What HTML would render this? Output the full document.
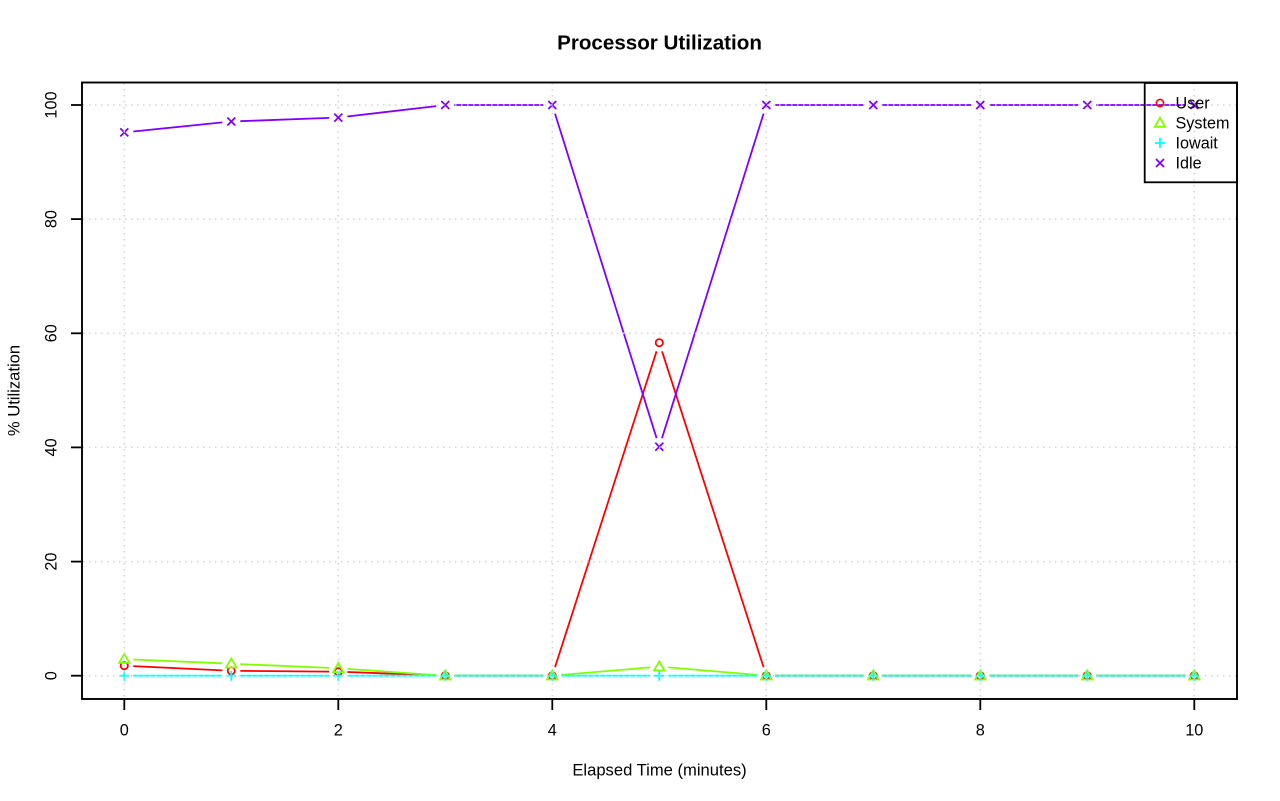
<!DOCTYPE html>
<html><head><meta charset="utf-8"><style>
html,body{margin:0;padding:0;background:#fff;}
svg{display:block;}
text{font-family:"Liberation Sans",Arial,sans-serif;fill:#000;}
</style></head><body>
<svg width="1280" height="801" viewBox="0 0 1280 801" xmlns="http://www.w3.org/2000/svg">
<rect x="0" y="0" width="1280" height="801" fill="#fff"/>
<!-- title -->
<text x="659.5" y="49.3" font-size="20.6" font-weight="bold" text-anchor="middle">Processor Utilization</text>

<!-- User series -->
<g stroke="#FF0000" stroke-width="1.8" fill="none">
<line x1="133.3" y1="666.1" x2="222.3" y2="670.4"/>
<line x1="240.3" y1="670.9" x2="329.3" y2="671.6"/>
<line x1="347.3" y1="672.0" x2="436.3" y2="675.4"/>
<line x1="454.3" y1="675.7" x2="543.3" y2="675.7"/>
<line x1="555.05" y1="667.1" x2="656.55" y2="351.3"/>
<line x1="662.05" y1="351.3" x2="763.55" y2="667.1"/>
<line x1="775.3" y1="675.7" x2="864.3" y2="675.7"/>
<line x1="882.3" y1="675.7" x2="971.3" y2="675.7"/>
<line x1="989.3" y1="675.7" x2="1078.3" y2="675.7"/>
<line x1="1096.3" y1="675.7" x2="1185.3" y2="675.7"/>
<circle cx="124.3" cy="665.7" r="3.6"/>
<circle cx="231.3" cy="670.8" r="3.6"/>
<circle cx="338.3" cy="671.7" r="3.6"/>
<circle cx="445.3" cy="675.7" r="3.6"/>
<circle cx="552.3" cy="675.7" r="3.6"/>
<circle cx="659.3" cy="342.7" r="3.6"/>
<circle cx="766.3" cy="675.7" r="3.6"/>
<circle cx="873.3" cy="675.7" r="3.6"/>
<circle cx="980.3" cy="675.7" r="3.6"/>
<circle cx="1087.3" cy="675.7" r="3.6"/>
<circle cx="1194.3" cy="675.7" r="3.6"/>
</g>

<!-- System series -->
<g stroke="#80FF00" stroke-width="1.8" fill="none">
<line x1="133.3" y1="659.5" x2="222.3" y2="663.3"/>
<line x1="240.3" y1="664.1" x2="329.3" y2="667.9"/>
<line x1="347.3" y1="668.9" x2="436.3" y2="675.1"/>
<line x1="454.3" y1="675.7" x2="543.3" y2="675.7"/>
<line x1="561.3" y1="674.9" x2="650.3" y2="667.4"/>
<line x1="668.3" y1="667.4" x2="757.3" y2="674.9"/>
<line x1="775.3" y1="675.7" x2="864.3" y2="675.7"/>
<line x1="882.3" y1="675.7" x2="971.3" y2="675.7"/>
<line x1="989.3" y1="675.7" x2="1078.3" y2="675.7"/>
<line x1="1096.3" y1="675.7" x2="1185.3" y2="675.7"/>
<polygon points="119.1,662.9 129.5,662.9 124.3,653.8"/>
<polygon points="226.1,667.5 236.5,667.5 231.3,658.4"/>
<polygon points="333.1,672.1 343.5,672.1 338.3,663.0"/>
<polygon points="440.1,679.5 450.5,679.5 445.3,670.4"/>
<polygon points="547.1,679.5 557.5,679.5 552.3,670.4"/>
<polygon points="654.1,670.4 664.5,670.4 659.3,661.3"/>
<polygon points="761.1,679.5 771.5,679.5 766.3,670.4"/>
<polygon points="868.1,679.5 878.5,679.5 873.3,670.4"/>
<polygon points="975.1,679.5 985.5,679.5 980.3,670.4"/>
<polygon points="1082.1,679.5 1092.5,679.5 1087.3,670.4"/>
<polygon points="1189.1,679.5 1199.5,679.5 1194.3,670.4"/>
</g>

<!-- Iowait series -->
<g stroke="#00FFFF" stroke-width="1.8" fill="none">
<line x1="133.3" y1="675.7" x2="222.3" y2="675.7"/>
<line x1="240.3" y1="675.7" x2="329.3" y2="675.7"/>
<line x1="347.3" y1="675.7" x2="436.3" y2="675.7"/>
<line x1="454.3" y1="675.7" x2="543.3" y2="675.7"/>
<line x1="561.3" y1="675.7" x2="650.3" y2="675.7"/>
<line x1="668.3" y1="675.7" x2="757.3" y2="675.7"/>
<line x1="775.3" y1="675.7" x2="864.3" y2="675.7"/>
<line x1="882.3" y1="675.7" x2="971.3" y2="675.7"/>
<line x1="989.3" y1="675.7" x2="1078.3" y2="675.7"/>
<line x1="1096.3" y1="675.7" x2="1185.3" y2="675.7"/>
<path d="M119.3 675.7h10M124.3 670.7v10 M226.3 675.7h10M231.3 670.7v10 M333.3 675.7h10M338.3 670.7v10 M440.3 675.7h10M445.3 670.7v10 M547.3 675.7h10M552.3 670.7v10 M654.3 675.7h10M659.3 670.7v10 M761.3 675.7h10M766.3 670.7v10 M868.3 675.7h10M873.3 670.7v10 M975.3 675.7h10M980.3 670.7v10 M1082.3 675.7h10M1087.3 670.7v10 M1189.3 675.7h10M1194.3 670.7v10"/>
</g>

<!-- Idle series -->
<g stroke="#8000FF" stroke-width="1.8" fill="none">
<line x1="133.3" y1="131.5" x2="222.3" y2="122.4"/>
<line x1="240.3" y1="121.2" x2="329.3" y2="117.9"/>
<line x1="347.3" y1="116.5" x2="436.3" y2="106.1"/>
<line x1="454.3" y1="105" x2="543.3" y2="105"/>
<line x1="555.0" y1="113.6" x2="656.6" y2="438.2"/>
<line x1="662.0" y1="438.2" x2="763.6" y2="113.6"/>
<line x1="775.3" y1="105" x2="864.3" y2="105"/>
<line x1="882.3" y1="105" x2="971.3" y2="105"/>
<line x1="989.3" y1="105" x2="1078.3" y2="105"/>
<line x1="1096.3" y1="105" x2="1185.3" y2="105"/>
<path d="M120.3 128.4l8 8M120.3 136.4l8 -8
M227.3 117.5l8 8M227.3 125.5l8 -8
M334.3 113.6l8 8M334.3 121.6l8 -8
M441.3 101l8 8M441.3 109l8 -8
M548.3 101l8 8M548.3 109l8 -8
M655.3 442.8l8 8M655.3 450.8l8 -8
M762.3 101l8 8M762.3 109l8 -8
M869.3 101l8 8M869.3 109l8 -8
M976.3 101l8 8M976.3 109l8 -8
M1083.3 101l8 8M1083.3 109l8 -8
M1190.3 101l8 8M1190.3 109l8 -8"/>
</g>

<!-- grid (drawn over series) -->
<g stroke="#D3D3D3" stroke-width="1.5" stroke-dasharray="1.5 4.5" fill="none">
<line x1="124.3" y1="83" x2="124.3" y2="698"/>
<line x1="338.3" y1="83" x2="338.3" y2="698"/>
<line x1="552.3" y1="83" x2="552.3" y2="698"/>
<line x1="766.3" y1="83" x2="766.3" y2="698"/>
<line x1="980.3" y1="83" x2="980.3" y2="698"/>
<line x1="1194.3" y1="83" x2="1194.3" y2="698"/>
<line x1="83" y1="675.7" x2="1236" y2="675.7"/>
<line x1="83" y1="561.6" x2="1236" y2="561.6"/>
<line x1="83" y1="447.4" x2="1236" y2="447.4"/>
<line x1="83" y1="333.3" x2="1236" y2="333.3"/>
<line x1="83" y1="219.1" x2="1236" y2="219.1"/>
<line x1="83" y1="105" x2="1236" y2="105"/>
</g>

<!-- plot border -->
<rect x="82" y="82.5" width="1155" height="616.5" fill="none" stroke="#000" stroke-width="1.9"/>

<!-- axis ticks -->
<g stroke="#000" stroke-width="1.8">
<line x1="124.3" y1="699" x2="124.3" y2="710"/>
<line x1="338.3" y1="699" x2="338.3" y2="710"/>
<line x1="552.3" y1="699" x2="552.3" y2="710"/>
<line x1="766.3" y1="699" x2="766.3" y2="710"/>
<line x1="980.3" y1="699" x2="980.3" y2="710"/>
<line x1="1194.3" y1="699" x2="1194.3" y2="710"/>
<line x1="71" y1="675.7" x2="82" y2="675.7"/>
<line x1="71" y1="561.6" x2="82" y2="561.6"/>
<line x1="71" y1="447.4" x2="82" y2="447.4"/>
<line x1="71" y1="333.3" x2="82" y2="333.3"/>
<line x1="71" y1="219.1" x2="82" y2="219.1"/>
<line x1="71" y1="105" x2="82" y2="105"/>
</g>

<!-- x tick labels -->
<g font-size="16.3" text-anchor="middle">
<text x="124.3" y="735.5">0</text>
<text x="338.3" y="735.5">2</text>
<text x="552.3" y="735.5">4</text>
<text x="766.3" y="735.5">6</text>
<text x="980.3" y="735.5">8</text>
<text x="1194.3" y="735.5">10</text>
</g>
<!-- y tick labels -->
<g font-size="16.3" text-anchor="middle">
<text transform="translate(56.5,675.7) rotate(-90)">0</text>
<text transform="translate(56.5,561.6) rotate(-90)">20</text>
<text transform="translate(56.5,447.4) rotate(-90)">40</text>
<text transform="translate(56.5,333.3) rotate(-90)">60</text>
<text transform="translate(56.5,219.1) rotate(-90)">80</text>
<text transform="translate(56.5,105) rotate(-90)">100</text>
</g>

<!-- axis titles -->
<text x="659.5" y="775.7" font-size="16.6" text-anchor="middle">Elapsed Time (minutes)</text>
<text transform="translate(19.3,390.5) rotate(-90)" font-size="16.6" text-anchor="middle">% Utilization</text>

<!-- legend -->
<rect x="1144.7" y="83" width="92.3" height="99.3" fill="none" stroke="#000" stroke-width="1.8"/>
<circle cx="1160" cy="103" r="3.6" fill="none" stroke="#FF0000" stroke-width="1.6"/>
<polygon points="1154.8,126.8 1165.2,126.8 1160,117.7" fill="none" stroke="#80FF00" stroke-width="1.8"/>
<path d="M1155 143h10M1160 138v10" stroke="#00FFFF" stroke-width="1.8" fill="none"/>
<path d="M1156 159l8 8M1156 167l8 -8" stroke="#8000FF" stroke-width="1.8" fill="none"/>
<g font-size="16.2">
<text x="1175.5" y="108.7">User</text>
<text x="1175.5" y="128.7">System</text>
<text x="1175.5" y="148.7">Iowait</text>
<text x="1175.5" y="168.7">Idle</text>
</g>
</svg>
</body></html>
